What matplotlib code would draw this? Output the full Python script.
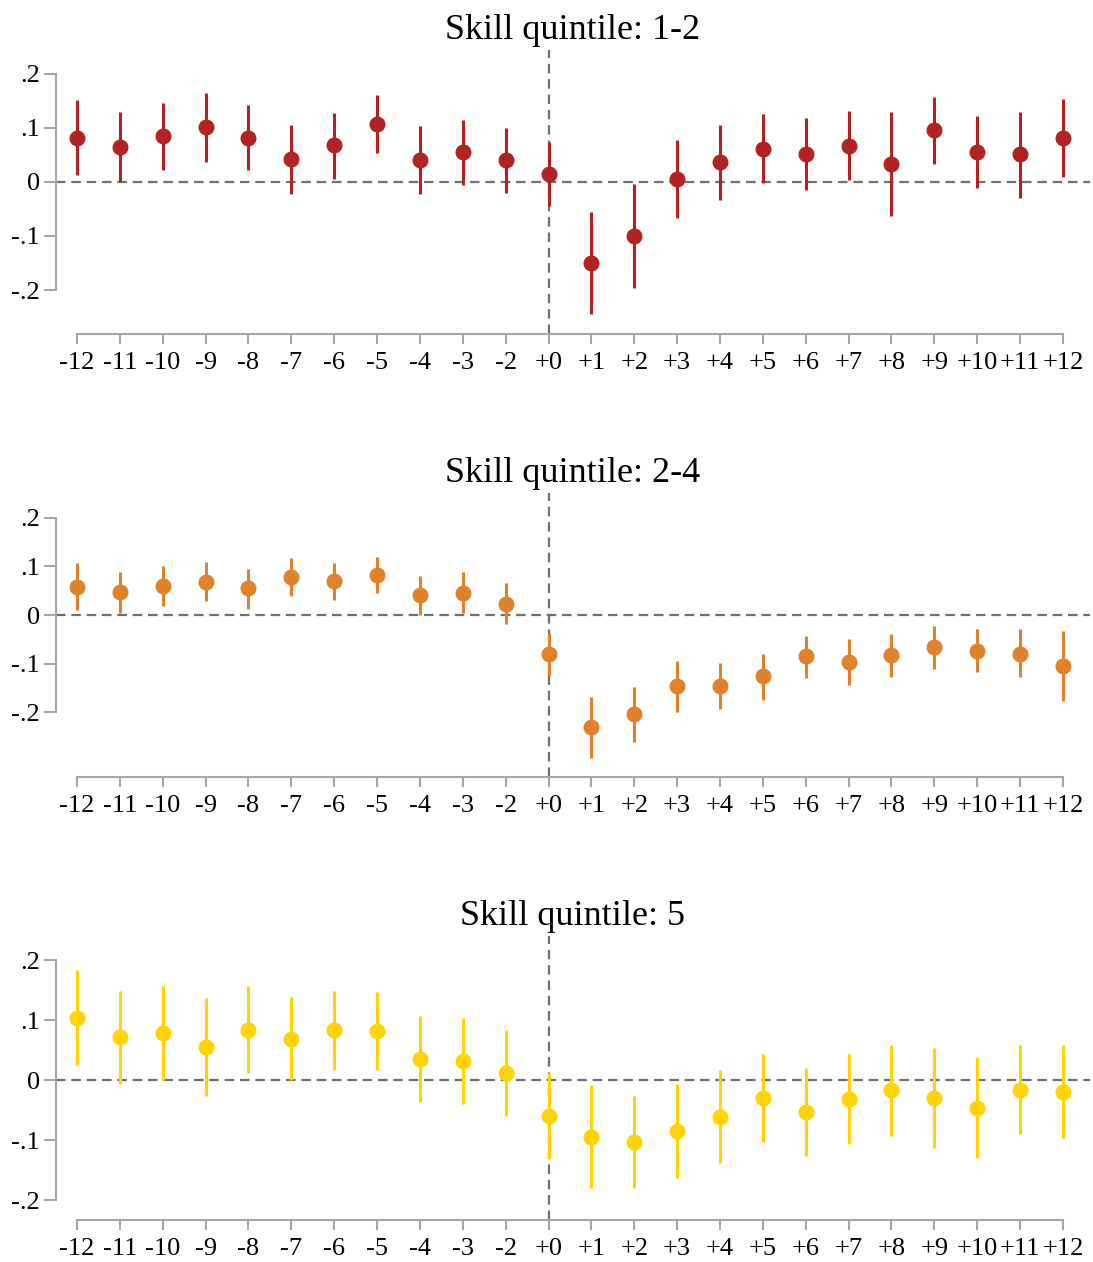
import numpy as np
import matplotlib
matplotlib.use("Agg")
import matplotlib.pyplot as plt

plt.rcParams['font.family'] = ['Liberation Serif', 'DejaVu Serif']

labels = ["-12", "-11", "-10", "-9", "-8", "-7", "-6", "-5", "-4", "-3", "-2", "+0",
          "+1", "+2", "+3", "+4", "+5", "+6", "+7", "+8", "+9", "+10", "+11", "+12"]

# skill quintile 1-2
est_q12 = [0.082, 0.065, 0.085, 0.101, 0.082, 0.043, 0.068, 0.108, 0.041, 0.055, 0.040, 0.015,
           -0.150, -0.100, 0.006, 0.036, 0.061, 0.052, 0.067, 0.033, 0.097, 0.056, 0.051, 0.082]
hi_q12 = [0.151, 0.129, 0.146, 0.165, 0.143, 0.106, 0.128, 0.161, 0.104, 0.115, 0.099, 0.073,
          -0.056, -0.003, 0.078, 0.105, 0.125, 0.118, 0.131, 0.130, 0.158, 0.122, 0.130, 0.153]
lo_q12 = [0.013, 0.000, 0.023, 0.037, 0.022, -0.022, 0.006, 0.054, -0.022, -0.006, -0.020, -0.044,
          -0.245, -0.197, -0.066, -0.034, -0.002, -0.014, 0.004, -0.063, 0.034, -0.012, -0.029, 0.010]

# skill quintile 2-4
est_q24 = [0.058, 0.047, 0.060, 0.069, 0.055, 0.079, 0.070, 0.083, 0.041, 0.046, 0.023, -0.081,
           -0.231, -0.204, -0.146, -0.146, -0.126, -0.085, -0.096, -0.082, -0.066, -0.073, -0.079, -0.104]
hi_q24 = [0.107, 0.089, 0.102, 0.110, 0.095, 0.117, 0.107, 0.120, 0.081, 0.088, 0.065, -0.036,
          -0.169, -0.148, -0.094, -0.098, -0.079, -0.042, -0.049, -0.038, -0.022, -0.028, -0.029, -0.032]
lo_q24 = [0.010, 0.005, 0.019, 0.028, 0.013, 0.040, 0.032, 0.046, 0.000, 0.005, -0.018, -0.126,
          -0.293, -0.260, -0.200, -0.194, -0.174, -0.129, -0.144, -0.128, -0.111, -0.118, -0.128, -0.176]

# skill quintile 5
est_q5 = [0.104, 0.071, 0.078, 0.055, 0.084, 0.069, 0.083, 0.081, 0.035, 0.032, 0.012, -0.060,
          -0.094, -0.103, -0.084, -0.061, -0.029, -0.053, -0.032, -0.017, -0.030, -0.046, -0.016, -0.019]
hi_q5 = [0.184, 0.149, 0.156, 0.136, 0.156, 0.139, 0.149, 0.146, 0.107, 0.103, 0.083, 0.011,
         -0.008, -0.026, -0.007, 0.016, 0.044, 0.020, 0.043, 0.058, 0.053, 0.038, 0.058, 0.058]
lo_q5 = [0.025, -0.007, 0.000, -0.026, 0.012, 0.000, 0.016, 0.016, -0.037, -0.039, -0.059, -0.132,
         -0.180, -0.179, -0.163, -0.138, -0.103, -0.126, -0.106, -0.093, -0.113, -0.130, -0.089, -0.097]

panels = [
    ("Skill quintile: 1-2", est_q12, lo_q12, hi_q12, "#b22222", (-0.2815, 0.244), 0.7353),
    ("Skill quintile: 2-4", est_q24, lo_q24, hi_q24, "#e0822a", (-0.333, 0.251), 0.3843),
    ("Skill quintile: 5", est_q5, lo_q5, hi_q5, "#ffd400", (-0.233, 0.240), 0.0333),
]

x = np.arange(len(labels))
event = labels.index("+0")
grey = "#a6a6a6"
dash = (0, (4.3, 2.6))

fig = plt.figure(figsize=(10.93, 12.62), dpi=100)

for title, est, lo, hi, col, ylim, bottom in panels:
    ax = fig.add_axes([0.0512, bottom, 0.946, 0.225])
    est = np.array(est)
    err = [est - np.array(lo), np.array(hi) - est]
    ax.axhline(0, color="#707070", lw=1.6, ls=dash, zorder=1)
    ax.axvline(x[event], color="#707070", lw=1.6, ls=dash, zorder=1)
    ax.errorbar(x, est, yerr=err, fmt="o", color=col, ecolor=col, elinewidth=2.2,
                markersize=10.5, capsize=0, zorder=3)
    ax.set_xlim(-0.49, 23.63)
    ax.set_ylim(*ylim)
    ax.set_xticks(x)
    ax.set_xticklabels(labels)
    ax.set_yticks([-0.2, -0.1, 0, 0.1, 0.2])
    ax.set_yticklabels(["-.2", "-.1", "0", ".1", ".2"])
    for s in ["top", "right"]:
        ax.spines[s].set_visible(False)
    ax.spines["left"].set_bounds(-0.2, 0.2)
    ax.spines["bottom"].set_bounds(0, 23)
    for s in ["left", "bottom"]:
        ax.spines[s].set_color(grey)
        ax.spines[s].set_linewidth(1.5)
    ax.tick_params(axis="x", length=7, width=1.5, color=grey, labelsize=19, pad=6)
    ax.tick_params(axis="y", length=8.5, width=1.5, color=grey, labelsize=19, pad=3)
    ax.set_title(title, fontsize=26, pad=8)

fig.savefig("out.png", dpi=100)
